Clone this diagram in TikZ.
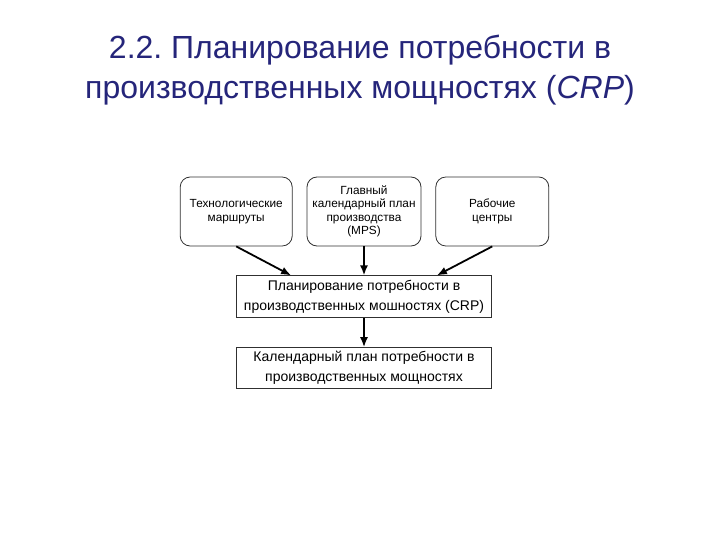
\documentclass[tikz,border=0pt]{standalone}
\usepackage{fontspec}
\setmainfont{Liberation Sans}
\usetikzlibrary{arrows.meta,positioning}
\definecolor{titleblue}{HTML}{25257A}
\definecolor{boxline}{HTML}{303030}

\begin{document}
\begin{tikzpicture}[
  x=1pt, y=-1pt,
  >=Latex,
  top/.style={draw=boxline, rounded corners=10pt, line width=0.8pt,
    align=center, minimum height=69pt, inner sep=2pt,
    font=\fontsize{11.8}{13.5}\selectfont},
  flat/.style={draw=boxline, line width=0.8pt, align=center,
    minimum width=255pt, inner sep=2pt,
    font=\fontsize{14}{20}\selectfont},
  arrow/.style={-{Latex[length=10pt,width=8pt]}, line width=1.8pt}
]
\useasboundingbox (0,0) rectangle (720,540);

\node[font=\fontsize{32}{40}\selectfont, text=titleblue, align=center] (title) at (360,70)
  {2.2.\ Планирование потребности в\\производственных мощностях (\textit{CRP})};

\node[top, minimum width=114pt] (mps) at (364,211.5)
  {Главный\\календарный план\\производства\\(MPS)};
\node[top, minimum width=112pt, left=14pt of mps] (tech) {Технологические\\маршруты};
\node[top, minimum width=113pt, right=14pt of mps] (rc) {Рабочие\\центры};

\node[flat, minimum height=42pt, below=29pt of mps] (crp)
  {Планирование потребности в\\производственных мошностях (CRP)};
\node[flat, minimum height=41pt, below=29pt of crp] (plan)
  {Календарный план потребности в\\производственных мощностях};

\draw[arrow] (tech.south) -- ([xshift=55pt]crp.north west);
\draw[arrow] (rc.south) -- ([xshift=-55pt]crp.north east);
\foreach \a/\b in {mps/crp,crp/plan}
  \draw[arrow] (\a) -- (\b);

\end{tikzpicture}
\end{document}
